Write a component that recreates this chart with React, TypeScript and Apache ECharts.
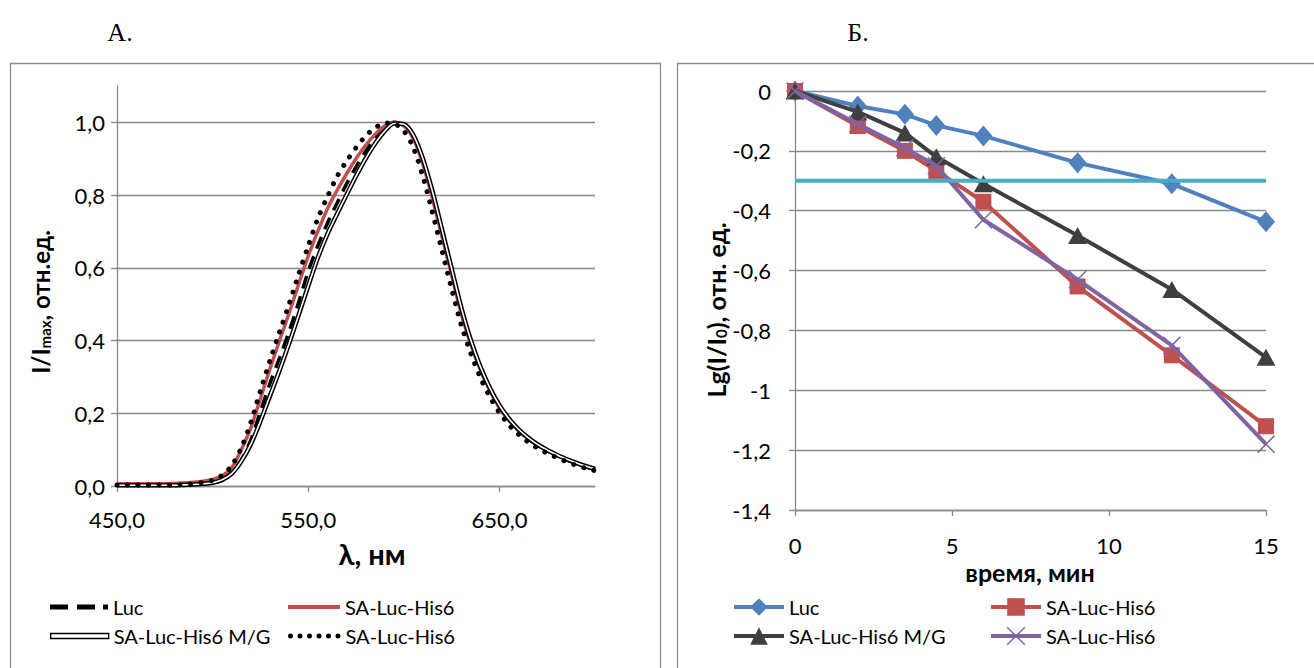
import { useEffect, useRef } from "react";
import * as echarts from "echarts";

// ---------- Panel A: emission spectra ----------
const wavelengthNm = [
  450, 455, 460, 465, 470, 475, 480, 485, 490, 495, 500, 505, 510, 515, 520, 525, 530, 535, 540, 545,
  550, 555, 560, 565, 570, 575, 580, 585, 590, 595, 600, 605, 610, 615, 620, 625, 630, 635, 640, 645,
  650, 655, 660, 665, 670, 675, 680, 685, 690, 695, 700,
];
const lucSpectrum = [
  0.004, 0.004, 0.004, 0.004, 0.004, 0.004, 0.005, 0.005, 0.007, 0.009, 0.013, 0.021, 0.038, 0.072, 0.127, 0.205, 0.282, 0.352, 0.425, 0.505,
  0.59, 0.66, 0.722, 0.777, 0.83, 0.877, 0.92, 0.957, 0.985, 1.0, 0.992, 0.96, 0.89, 0.797, 0.69, 0.585, 0.48, 0.393, 0.322, 0.264,
  0.217, 0.181, 0.153, 0.13, 0.112, 0.097, 0.084, 0.072, 0.062, 0.053, 0.046,
];
const saLucHis6Spectrum = [
  0.006, 0.006, 0.006, 0.006, 0.006, 0.006, 0.007, 0.008, 0.01, 0.013, 0.018, 0.028, 0.05, 0.1, 0.16, 0.24, 0.322, 0.4, 0.475, 0.555,
  0.632, 0.7, 0.762, 0.812, 0.858, 0.9, 0.937, 0.967, 0.99, 1.0, 0.99, 0.955, 0.885, 0.79, 0.685, 0.58, 0.475, 0.39, 0.32, 0.262,
  0.215, 0.18, 0.152, 0.13, 0.112, 0.098, 0.085, 0.074, 0.064, 0.054, 0.046,
];
const saLucHis6MGSpectrum = [
  0.002, 0.002, 0.002, 0.002, 0.002, 0.002, 0.002, 0.003, 0.004, 0.006, 0.009, 0.017, 0.034, 0.068, 0.115, 0.178, 0.248, 0.318, 0.392, 0.47,
  0.55, 0.627, 0.692, 0.747, 0.8, 0.852, 0.9, 0.942, 0.976, 0.997, 0.995, 0.965, 0.9, 0.81, 0.705, 0.598, 0.492, 0.402, 0.329, 0.27,
  0.222, 0.185, 0.156, 0.133, 0.114, 0.099, 0.086, 0.074, 0.064, 0.055, 0.047,
];
const saLucHis6SecondSpectrum = [
  0.003, 0.003, 0.003, 0.003, 0.003, 0.003, 0.003, 0.004, 0.006, 0.01, 0.016, 0.03, 0.056, 0.105, 0.175, 0.262, 0.345, 0.423, 0.5, 0.582,
  0.66, 0.735, 0.795, 0.85, 0.893, 0.93, 0.962, 0.985, 0.998, 0.996, 0.977, 0.93, 0.851, 0.752, 0.647, 0.542, 0.444, 0.365, 0.299, 0.245,
  0.202, 0.168, 0.142, 0.121, 0.104, 0.09, 0.078, 0.067, 0.057, 0.049, 0.042,
];
const spectrumXTicks = [450, 550, 650];
const spectrumYTicks = [0, 0.2, 0.4, 0.6, 0.8, 1.0];

// ---------- Panel B: decay kinetics ----------
const timeMin = [0, 2, 3.5, 4.5, 6, 9, 12, 15];
const lucLg = [0, -0.05, -0.078, -0.115, -0.15, -0.24, -0.31, -0.437];
const saLucHis6Lg = [0, -0.117, -0.2, -0.267, -0.37, -0.653, -0.883, -1.12];
const saLucHis6MGLg = [0, -0.07, -0.14, -0.22, -0.31, -0.483, -0.663, -0.89];
const saLucHis6SecondLg = [0, -0.11, -0.19, -0.25, -0.43, -0.63, -0.85, -1.18];
const thresholdTime = [0, 15];
const thresholdLg = [-0.3, -0.3];

const FONT = "Lato, 'Open Sans', sans-serif";
const AXIS_GRAY = "#898989";
const C_BLUE = "#4F81BD";
const C_RED = "#C0504D";
const C_DARK = "#3F3F3F";
const C_PURPLE = "#8064A2";
const C_CYAN = "#4BACC6";

const pairs = (xs: number[], ys: number[]) => xs.map((x, i) => [x, ys[i]]);
const comma1 = (v: number) => v.toFixed(1).replace(".", ",");
const commaGeneral = (v: number) => String(Math.round(v * 10) / 10).replace(".", ",");

// legend icon shapes (Excel-like line samples)
const dot = (cx: number, r: number) => `M${cx - r} ${r}a${r} ${r} 0 1 0 ${2 * r} 0a${r} ${r} 0 1 0 ${-2 * r} 0Z`;
const ICON_DASH = "path://M0 0H18V5H0Z M27 0H45V5H27Z M53 0H58V5H53Z";
const ICON_SOLID = "path://M0 0H52V4H0Z";
const ICON_DOUBLE = "path://M0 0H58V5H0Z";
const ICON_DOTS = "path://" + [2.5, 12, 21.5, 31, 40.5, 50].map((c) => dot(c, 2.5)).join(" ");

export default function App() {
  const ref = useRef<HTMLDivElement>(null);

  useEffect(() => {
    if (!ref.current) return;
    const chart = echarts.init(ref.current, null, { renderer: "svg" });

    const labelStyle = { color: "#000", fontFamily: FONT, fontSize: 22 };
    const legendText = { color: "#000", fontFamily: FONT, fontSize: 20 };
    const axisLine = { show: true, lineStyle: { color: AXIS_GRAY, width: 1.3 } };
    const splitLine = { show: true, lineStyle: { color: AXIS_GRAY, width: 1.3 } };
    const tick = { show: true, inside: false, length: 6, lineStyle: { color: AXIS_GRAY, width: 1.3 } };
    const baseLegend = { textStyle: legendText, selectedMode: false, padding: 5 };

    const option: any = {
      animation: false,
      backgroundColor: "#fff",
      grid: [
        { left: 117, right: 1314 - 595, top: 86, bottom: 668 - 486, containLabel: false, outerBoundsMode: "none" },
        { left: 795, right: 1314 - 1266, top: 91, bottom: 668 - 510, containLabel: false, outerBoundsMode: "none" },
      ],
      xAxis: [
        {
          type: "value", gridIndex: 0, min: 450, max: 700, interval: 100,
          axisLine, splitLine: { show: false },
          axisTick: { ...tick, customValues: spectrumXTicks },
          axisLabel: { ...labelStyle, margin: 22, formatter: comma1, customValues: spectrumXTicks },
        },
        {
          type: "value", gridIndex: 1, min: 0, max: 15, interval: 5,
          axisLine: { ...axisLine, onZero: false }, splitLine: { show: false },
          axisTick: tick,
          axisLabel: { ...labelStyle, margin: 24, formatter: commaGeneral },
        },
      ],
      yAxis: [
        {
          type: "value", gridIndex: 0, min: 0, max: 1.1, interval: 0.2,
          axisLine, splitLine,
          axisTick: { ...tick, customValues: spectrumYTicks },
          axisLabel: { ...labelStyle, margin: 12, formatter: comma1, customValues: spectrumYTicks },
        },
        {
          type: "value", gridIndex: 1, min: -1.4, max: 0, interval: 0.2,
          axisLine, splitLine,
          axisTick: tick,
          axisLabel: { ...labelStyle, margin: 24, formatter: commaGeneral },
        },
      ],
      legend: [
        {
          ...baseLegend, left: 45, top: 592, itemWidth: 58, itemHeight: 5, symbolKeepAspect: false,
          data: [{ name: "luc_spec", icon: ICON_DASH, itemStyle: { color: "#000", borderWidth: 0 } }], formatter: () => "Luc",
        },
        {
          ...baseLegend, left: 283, top: 592, itemWidth: 52, itemHeight: 4, symbolKeepAspect: false,
          data: [{ name: "sa_spec", icon: ICON_SOLID, itemStyle: { color: C_RED, borderWidth: 0 } }], formatter: () => "SA-Luc-His6",
        },
        {
          ...baseLegend, left: 45, top: 621, itemWidth: 58, itemHeight: 5, symbolKeepAspect: false,
          data: [{ name: "mg_spec", icon: ICON_DOUBLE, itemStyle: { color: "#fff", borderColor: "#000", borderWidth: 1.4 } }],
          formatter: () => "SA-Luc-His6 M/G",
        },
        {
          ...baseLegend, left: 283, top: 621, itemWidth: 52.5, itemHeight: 5, symbolKeepAspect: false,
          data: [{ name: "sa2_spec", icon: ICON_DOTS, itemStyle: { color: "#000", borderWidth: 0 } }], formatter: () => "SA-Luc-His6",
        },

        { ...baseLegend, data: ["luc_t"], formatter: () => "Luc", left: 727, top: 592, itemWidth: 50, itemHeight: 22, lineStyle: { width: 4 } },
        { ...baseLegend, data: ["sa_t"], formatter: () => "SA-Luc-His6", left: 984, top: 592, itemWidth: 50, itemHeight: 22, lineStyle: { width: 4 } },
        { ...baseLegend, data: ["mg_t"], formatter: () => "SA-Luc-His6 M/G", left: 727, top: 621, itemWidth: 50, itemHeight: 22, lineStyle: { width: 4 } },
        {
          ...baseLegend, data: ["sa2_t"], formatter: () => "SA-Luc-His6", left: 984, top: 621, itemWidth: 50, itemHeight: 22,
          lineStyle: { width: 4 }, itemStyle: { borderColor: C_PURPLE, borderWidth: 1.5 },
        },
      ],
      series: [
        {
          type: "line", name: "luc_spec", xAxisIndex: 0, yAxisIndex: 0, data: pairs(wavelengthNm, lucSpectrum),
          symbol: "none", smooth: 0.3, lineStyle: { color: "#000", width: 3.5, type: [13, 8] }, itemStyle: { color: "#000" }, z: 2,
        },
        {
          type: "line", name: "sa_spec", xAxisIndex: 0, yAxisIndex: 0, data: pairs(wavelengthNm, saLucHis6Spectrum),
          symbol: "none", smooth: 0.3, lineStyle: { color: C_RED, width: 3.5 }, itemStyle: { color: C_RED }, z: 3,
        },
        {
          type: "line", name: "mg_spec", xAxisIndex: 0, yAxisIndex: 0, data: pairs(wavelengthNm, saLucHis6MGSpectrum),
          symbol: "none", smooth: 0.3, lineStyle: { color: "#000", width: 4.6 }, itemStyle: { color: "#000" }, z: 4,
        },
        {
          type: "line", name: "mg_core", xAxisIndex: 0, yAxisIndex: 0, data: pairs(wavelengthNm, saLucHis6MGSpectrum),
          symbol: "none", smooth: 0.3, lineStyle: { color: "#fff", width: 1.6 }, itemStyle: { color: "#fff" }, z: 5,
        },
        {
          type: "line", name: "sa2_spec", xAxisIndex: 0, yAxisIndex: 0, data: pairs(wavelengthNm, saLucHis6SecondSpectrum),
          symbol: "none", smooth: 0.3, lineStyle: { color: "#000", width: 5, type: [0.01, 10.5], cap: "round" }, itemStyle: { color: "#000" }, z: 6,
        },

        {
          type: "line", name: "luc_t", xAxisIndex: 1, yAxisIndex: 1, data: pairs(timeMin, lucLg),
          symbol: "diamond", symbolSize: [18, 21], lineStyle: { color: C_BLUE, width: 4 }, itemStyle: { color: C_BLUE }, z: 2,
        },
        {
          type: "line", name: "sa_t", xAxisIndex: 1, yAxisIndex: 1, data: pairs(timeMin, saLucHis6Lg),
          symbol: "rect", symbolSize: 16, lineStyle: { color: C_RED, width: 4 }, itemStyle: { color: C_RED }, z: 3,
        },
        {
          type: "line", name: "mg_t", xAxisIndex: 1, yAxisIndex: 1, data: pairs(timeMin, saLucHis6MGLg),
          symbol: "triangle", symbolSize: [19, 17], lineStyle: { color: C_DARK, width: 4 }, itemStyle: { color: C_DARK }, z: 4,
        },
        {
          type: "line", name: "sa2_t", xAxisIndex: 1, yAxisIndex: 1, data: pairs(timeMin, saLucHis6SecondLg),
          symbol: "path://M0,0L10,10M10,0L0,10", symbolSize: 17,
          lineStyle: { color: C_PURPLE, width: 4 }, itemStyle: { color: C_PURPLE, borderColor: C_PURPLE, borderWidth: 1.5 }, z: 5,
        },
        {
          type: "line", name: "threshold", xAxisIndex: 1, yAxisIndex: 1, data: pairs(thresholdTime, thresholdLg),
          symbol: "none", lineStyle: { color: C_CYAN, width: 4 }, itemStyle: { color: C_CYAN }, z: 6,
        },
      ],
      graphic: [
        { type: "rect", silent: true, shape: { x: 10.5, y: 63.5, width: 650, height: 700 }, style: { fill: "none", stroke: "#8c8c8c", lineWidth: 1.3 } },
        { type: "rect", silent: true, shape: { x: 677.5, y: 63.5, width: 700, height: 700 }, style: { fill: "none", stroke: "#8c8c8c", lineWidth: 1.3 } },
        { type: "text", x: 120, y: 32, style: { text: "А.", fontFamily: "'Liberation Serif', serif", fontSize: 26, fill: "#000", align: "center", verticalAlign: "middle" } },
        { type: "text", x: 858, y: 32, style: { text: "Б.", fontFamily: "'Liberation Serif', serif", fontSize: 26, fill: "#000", align: "center", verticalAlign: "middle" } },
        {
          type: "text", x: 40, y: 302, rotation: Math.PI / 2,
          style: {
            text: "{a|I/I}{s|max}{a|, отн.ед.}", align: "center", verticalAlign: "middle", fill: "#000",
            rich: {
              a: { fontFamily: FONT, fontSize: 24, fontWeight: "bold", fill: "#000" },
              s: { fontFamily: FONT, fontSize: 15, fontWeight: "bold", fill: "#000", verticalAlign: "bottom", padding: [9, 0, 0, 0] },
            },
          },
        },
        { type: "text", x: 372, y: 553, style: { text: "λ, нм", fontFamily: FONT, fontSize: 29, fontWeight: "bold", fill: "#000", align: "center", verticalAlign: "middle" } },
        {
          type: "text", x: 716, y: 310, rotation: Math.PI / 2,
          style: {
            text: "{a|Lg(I/I}{s|0}{a|), отн. ед.}", align: "center", verticalAlign: "middle", fill: "#000",
            rich: {
              a: { fontFamily: FONT, fontSize: 25, fontWeight: "bold", fill: "#000" },
              s: { fontFamily: FONT, fontSize: 15, fontWeight: "bold", fill: "#000", verticalAlign: "bottom", padding: [9, 0, 0, 0] },
            },
          },
        },
        { type: "text", x: 1030, y: 572, style: { text: "время, мин", fontFamily: FONT, fontSize: 25, fontWeight: "bold", fill: "#000", align: "center", verticalAlign: "middle" } },
      ],
    };

    chart.setOption(option);
    return () => chart.dispose();
  }, []);

  return <div ref={ref} style={{ position: "absolute", left: 0, top: 0, width: 1314, height: 668 }} />;
}
